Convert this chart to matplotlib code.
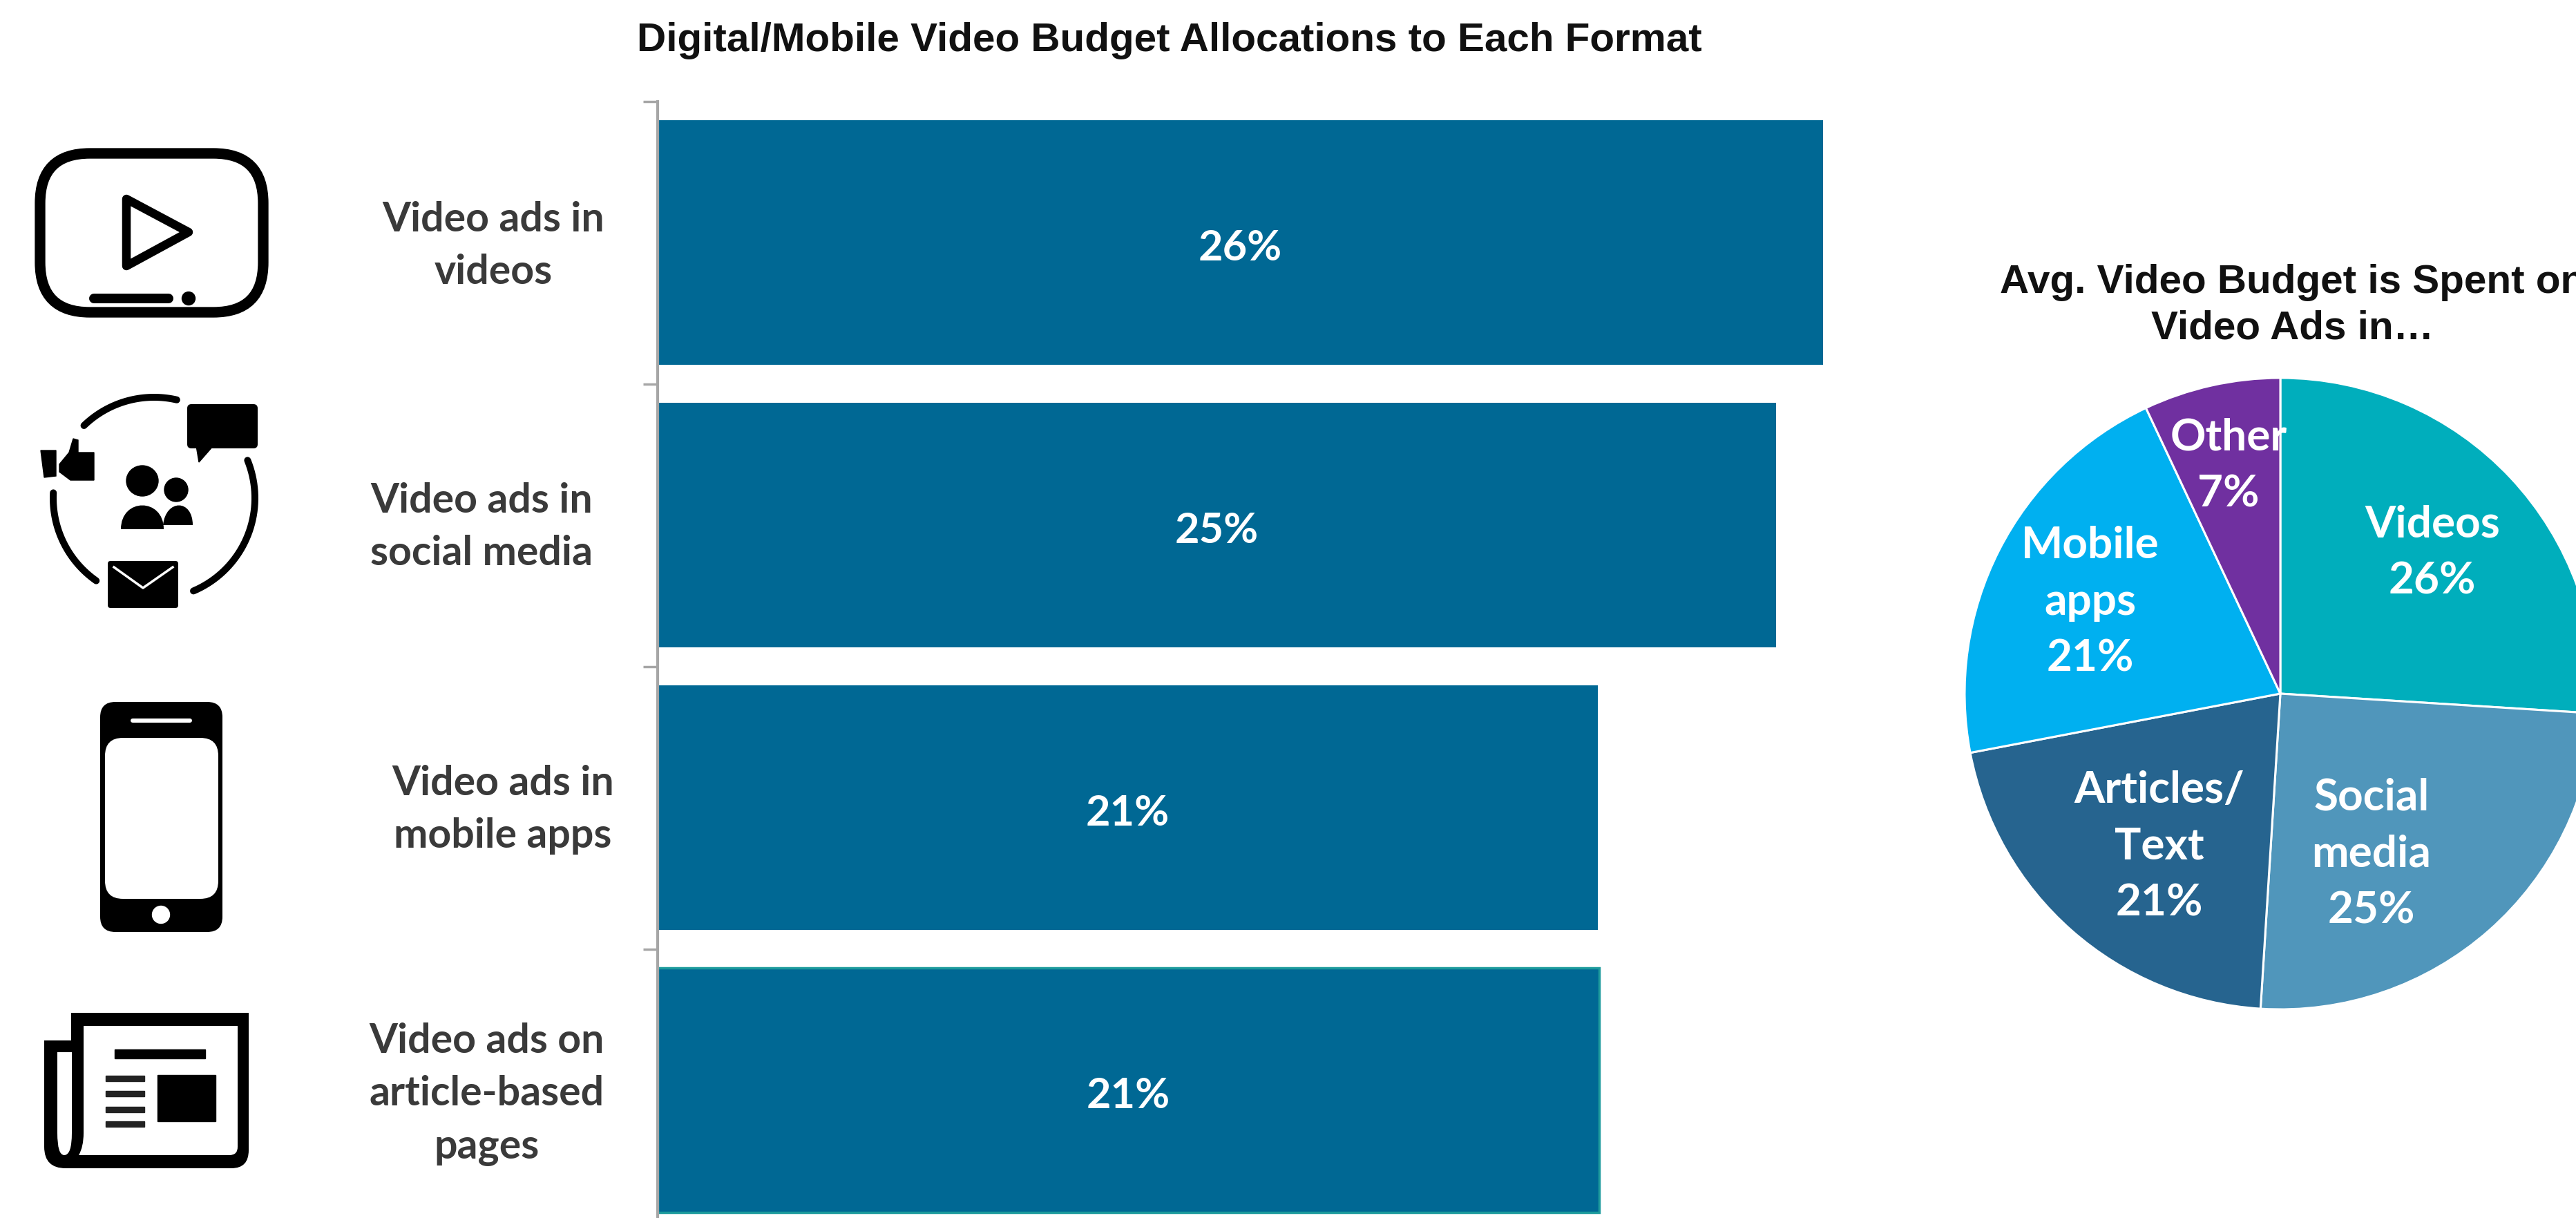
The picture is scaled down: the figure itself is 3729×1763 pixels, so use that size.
import numpy as np
import matplotlib
matplotlib.use('Agg')
import matplotlib.pyplot as plt
from matplotlib.patches import Rectangle, FancyBboxPatch, Ellipse, Polygon, PathPatch
from matplotlib.path import Path

W, H = 3730, 1763

bar_labels = ['Video ads in\nvideos', 'Video ads in\nsocial media', 'Video ads in\nmobile apps',
              'Video ads on\narticle-based\npages']
bar_values = [26.0, 24.95, 20.97, 21.0]
bar_texts = ['26%', '25%', '21%', '21%']
bar_title = 'Digital/Mobile Video Budget Allocations to Each Format'

pie_labels = ['Videos\n26%', 'Social\nmedia\n25%', 'Articles/\nText\n21%', 'Mobile\napps\n21%', 'Other\n7%']
pie_values = [26, 25, 21, 21, 7]
pie_colors = ['#00AEBC', '#5096BB', '#26648F', '#00B0F0', '#7030A0']
pie_title = 'Avg. Video Budget is Spent on\nVideo Ads in…'

BAR_COLOR = '#006894'
LABEL_COLOR = '#3a3a3a'
CALIBRI = ['Lato', 'DejaVu Sans']
ARIAL = ['Liberation Sans', 'DejaVu Sans']


def px_axes(fig, left, top, right, bottom):
    return fig.add_axes([left / W, 1 - bottom / H, (right - left) / W, (bottom - top) / H])


def round_box(ax, x0, y0, x1, y1, r, **kw):
    ax.add_patch(FancyBboxPatch((x0 + r, y0 + r), x1 - x0 - 2 * r, y1 - y0 - 2 * r,
                                boxstyle=f'round,pad={r},rounding_size={r}', **kw))


def stroke(ax, xs, ys, lw, color='black'):
    ax.plot(xs, ys, color=color, lw=lw * 0.72, solid_capstyle='round', solid_joinstyle='round')


def draw_play_icon(ax):
    round_box(ax, 58, 222, 381, 452, 72, fc='white', ec='black', lw=11)
    ax.add_patch(Polygon([(183, 288), (273, 336), (183, 385)], closed=True, fc='white', ec='black',
                         lw=9, joinstyle='round'))
    stroke(ax, [136, 244], [432, 432], 14)
    ax.add_patch(Ellipse((273, 432), 19, 19, color='black'))


def draw_social_icon(ax):
    cx, cy, r = 223, 721, 146
    for a0, a1 in [(-134, -77), (-22, 67), (125, 183)]:
        t = np.radians(np.linspace(a0, a1, 40))
        stroke(ax, cx + r * np.cos(t), cy + r * np.sin(t), 10)
    round_box(ax, 271, 585, 373, 649, 6, fc='black', ec='none')
    ax.add_patch(Polygon([(284, 645), (309, 645), (288, 669)], color='black'))
    ax.add_patch(Polygon([(59, 652), (81, 652), (81, 689), (64, 691)], color='black'))
    ax.add_patch(Polygon([(86, 672), (100, 655), (106, 635), (113, 637), (113, 655), (136, 655),
                          (136, 695), (102, 695), (86, 683)], color='black'))
    ax.add_patch(Ellipse((206, 696), 46, 44, color='black'))
    ax.add_patch(Ellipse((255, 709), 34, 34, color='black'))
    body = Path([(175, 766), (175, 720), (237, 720), (237, 766), (175, 766)],
                [Path.MOVETO, Path.CURVE4, Path.CURVE4, Path.CURVE4, Path.CLOSEPOLY])
    ax.add_patch(PathPatch(body, fc='black', ec='none'))
    body = Path([(236, 760), (240, 722), (279, 722), (279, 760), (236, 760)],
                [Path.MOVETO, Path.CURVE4, Path.CURVE4, Path.CURVE4, Path.CLOSEPOLY])
    ax.add_patch(PathPatch(body, fc='black', ec='none'))
    round_box(ax, 156, 812, 258, 880, 4, fc='black', ec='none')
    ax.plot([165, 207, 250], [821, 851, 821], color='white', lw=2.5)


def draw_phone_icon(ax):
    round_box(ax, 145, 1016, 322, 1349, 22, fc='black', ec='none')
    round_box(ax, 152, 1068, 316, 1301, 26, fc='white', ec='none')
    stroke(ax, [192, 275], [1043, 1043], 6, color='white')
    ax.add_patch(Ellipse((233, 1324), 25, 25, color='white'))


def draw_news_icon(ax):
    outer = Path([(103, 1466), (360, 1466), (360, 1665), (360, 1691), (335, 1691), (95, 1691),
                  (64, 1691), (64, 1660), (64, 1506), (103, 1506), (103, 1466)],
                 [Path.MOVETO, Path.LINETO, Path.LINETO, Path.CURVE3, Path.CURVE3, Path.LINETO,
                  Path.CURVE3, Path.CURVE3, Path.LINETO, Path.LINETO, Path.CLOSEPOLY])
    ax.add_patch(PathPatch(outer, fc='black', ec='none'))
    page = Path([(121, 1485), (344, 1485), (344, 1660), (344, 1672), (332, 1672), (114, 1672),
                 (121, 1660), (121, 1640), (121, 1485)],
                [Path.MOVETO, Path.LINETO, Path.LINETO, Path.CURVE3, Path.CURVE3, Path.LINETO,
                 Path.CURVE3, Path.CURVE3, Path.CLOSEPOLY])
    ax.add_patch(PathPatch(page, fc='white', ec='none'))
    fold = Path([(83, 1523), (104, 1523), (104, 1640), (104, 1672), (93, 1672), (83, 1672),
                 (83, 1640), (83, 1523)],
                [Path.MOVETO, Path.LINETO, Path.LINETO, Path.CURVE3, Path.CURVE3, Path.CURVE3,
                 Path.CURVE3, Path.CLOSEPOLY])
    ax.add_patch(PathPatch(fold, fc='white', ec='none'))
    ax.add_patch(Rectangle((166, 1519), 131, 13, color='black'))
    for y in [1561, 1583, 1606, 1627]:
        ax.add_patch(Rectangle((153, y - 4), 56, 8, color='#222222'))
    ax.add_patch(Rectangle((228, 1556), 84, 67, color='black'))


fig = plt.figure(figsize=(W / 100, H / 100), dpi=100, facecolor='white')

# bars, one category slot is 409 px high
ax = px_axes(fig, 952, 146.5, 3730, 1782.5)
positions = np.arange(len(bar_values))
bars = ax.barh(positions, bar_values, height=0.866, color=BAR_COLOR)
bars[-1].set_edgecolor('#1C9A9C')
bars[-1].set_linewidth(2.5)
ax.set_ylim(3.5, -0.5)
ax.set_xlim(0, (3730 - 952) / 64.9)
for side in ['top', 'right', 'bottom']:
    ax.spines[side].set_visible(False)
ax.spines['left'].set_color('#a6a6a6')
ax.spines['left'].set_linewidth(3)
ax.set_xticks([])
ax.set_yticks(np.arange(-0.5, 4, 1))
ax.set_yticklabels([])
ax.tick_params(axis='y', length=15, width=2.5, color='#a6a6a6')
for pos, val, txt in zip(positions, bar_values, bar_texts):
    ax.annotate(txt, (val / 2, pos), xytext=(0, -6), textcoords='offset points', ha='center', va='center',
                color='white', fontsize=44, fontweight='bold', family=CALIBRI)

# pie runs off the right edge of the figure like the original
pie_ax = px_axes(fig, 3301 - 457, 1004 - 457, 3301 + 457, 1004 + 457)
pie_ax.pie(pie_values, colors=pie_colors, startangle=90, counterclock=False, radius=1,
           wedgeprops={'edgecolor': 'white', 'linewidth': 2.2})
pie_ax.set_xlim(-1, 1)
pie_ax.set_ylim(-1, 1)

# overlay in reference pixels for icons and free text
over = fig.add_axes([0, 0, 1, 1])
over.set_xlim(0, W)
over.set_ylim(H, 0)
over.axis('off')
over.patch.set_alpha(0)

draw_play_icon(over)
draw_social_icon(over)
draw_phone_icon(over)
draw_news_icon(over)

label_xy = [(714, 356), (697, 763), (728, 1172), (705, 1584)]
for lab, (x, y) in zip(bar_labels, label_xy):
    over.text(x, y, lab, ha='center', va='center', color=LABEL_COLOR, fontsize=42.5, fontweight='bold',
              family=CALIBRI, linespacing=1.5)

pie_xy = [(3521, 800), (3433, 1236), (3126, 1225), (3026, 871), (3226, 674)]
for lab, (x, y) in zip(pie_labels, pie_xy):
    over.text(x, y, lab, ha='center', va='center', color='white', fontsize=46, fontweight='bold',
              family=CALIBRI, linespacing=1.53)

over.text(1693, 59, bar_title, ha='center', va='center', color='#111111', fontsize=42,
          fontweight='bold', family=ARIAL)
# first line runs past the right edge in the reference too
over.text(3319, 442, pie_title, ha='center', va='center', color='#111111', fontsize=42,
          fontweight='bold', family=ARIAL, linespacing=1.3)

fig.savefig('out.png', dpi=100)
plt.close(fig)
